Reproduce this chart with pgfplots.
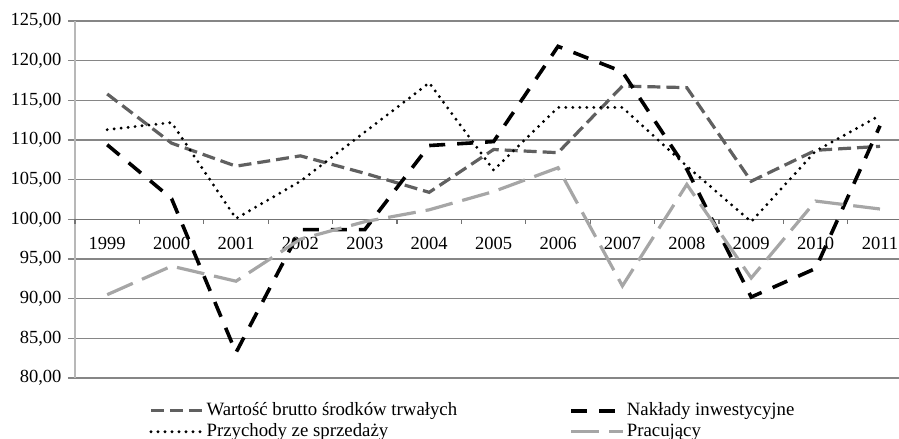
\documentclass[border=0pt]{standalone}
\usepackage{fontspec}
\setmainfont{Liberation Serif}
\usepackage{pgfplots}
\pgfplotsset{compat=1.18}
\definecolor{sdark}{HTML}{606060}
\definecolor{slight}{HTML}{A6A6A6}
\definecolor{gridc}{HTML}{868686}
\begin{document}
\fontsize{9.25}{11}\selectfont
\begin{tikzpicture}
\begin{axis}[
  scale only axis,
  width=412pt, height=178.5pt,
  xmin=-0.5, xmax=12.295,
  ymin=80, ymax=125,
  ytick={80,85,...,125},
  xtick={0,...,12},
  xticklabels={1999,2000,2001,2002,2003,2004,2005,2006,2007,2008,2009,2010,2011},
  axis lines*=left,
  x axis line style={draw=none},
  y axis line style={draw=black!28, line width=1pt},
  x tick style={draw=none},
  y tick style={draw=gridc, line width=0.6pt},
  tick align=outside,
  major tick length=3.5pt,
  ymajorgrids,
  grid style={draw=gridc, line width=0.6pt},
  /pgf/number format/assume math mode=true,
  yticklabel style={/pgf/number format/.cd, fixed, fixed zerofill, precision=2, use comma, 1000 sep={}},
  yticklabel={\pgfmathprintnumber{\tick}},
  xticklabel style={yshift=77pt},
  tick label style={font=\fontsize{9.25}{11}\selectfont},
  clip=false,
  legend columns=2,
  legend cell align=left,
  legend style={draw=none, fill=none, at={(0.0825,-0.05)}, anchor=north west, font=\fontsize{9.4}{10.5}\selectfont,
    nodes={text height=6.5pt, text depth=2pt, inner sep=1pt},
    /tikz/every even column/.append style={column sep=55pt}, row sep=0pt},
  legend image code/.code={\draw[#1] (0pt,0pt) -- (26pt,0pt);},
]
\draw[black!55, line width=0.7pt] (axis cs:-0.5,100) -- (axis cs:12.295,100);
\pgfplotsinvokeforeach{0,...,12}{\draw[black!55, line width=0.6pt] (axis cs:#1-0.5,100) -- ([yshift=-2.5pt]axis cs:#1-0.5,100);}
\addplot[sdark, line width=1.6pt, dash pattern=on 6.5pt off 3pt] coordinates {
(0,115.8) (1,109.6) (2,106.7) (3,108.0) (4,105.8) (5,103.4) (6,108.8) (7,108.4) (8,116.8) (9,116.6) (10,104.8) (11,108.7) (12,109.2)};
\addlegendentry{Wartość brutto środków trwałych}
\addplot[black, line width=1.8pt, dash pattern=on 8pt off 6pt] coordinates {
(0,109.4) (1,102.6) (2,83.2) (3,98.7) (4,98.7) (5,109.3) (6,109.8) (7,121.8) (8,118.6) (9,106.3) (10,90.2) (11,93.8) (12,111.8)};
\addlegendentry{Nakłady inwestycyjne}
\addplot[black, line width=1.6pt, line cap=round, dash pattern=on 0pt off 3.5pt] coordinates {
(0,111.3) (1,112.2) (2,100.1) (3,104.8) (4,111.0) (5,117.2) (6,106.2) (7,114.1) (8,114.1) (9,106.7) (10,99.7) (11,108.6) (12,113.1)};
\addlegendentry{Przychody ze sprzedaży}
\addplot[slight, line width=1.6pt, dash pattern=on 14pt off 5pt] coordinates {
(0,90.5) (1,94.1) (2,92.2) (3,97.5) (4,99.7) (5,101.2) (6,103.5) (7,106.5) (8,91.6) (9,104.4) (10,92.6) (11,102.3) (12,101.3)};
\addlegendentry{Pracujący}
\end{axis}
\pgfresetboundingbox
\path[use as bounding box] ([shift={(-37.5pt,-30.5pt)}]current axis.south west) rectangle ([shift={(0pt,10.5pt)}]current axis.north east);
\end{tikzpicture}
\end{document}
